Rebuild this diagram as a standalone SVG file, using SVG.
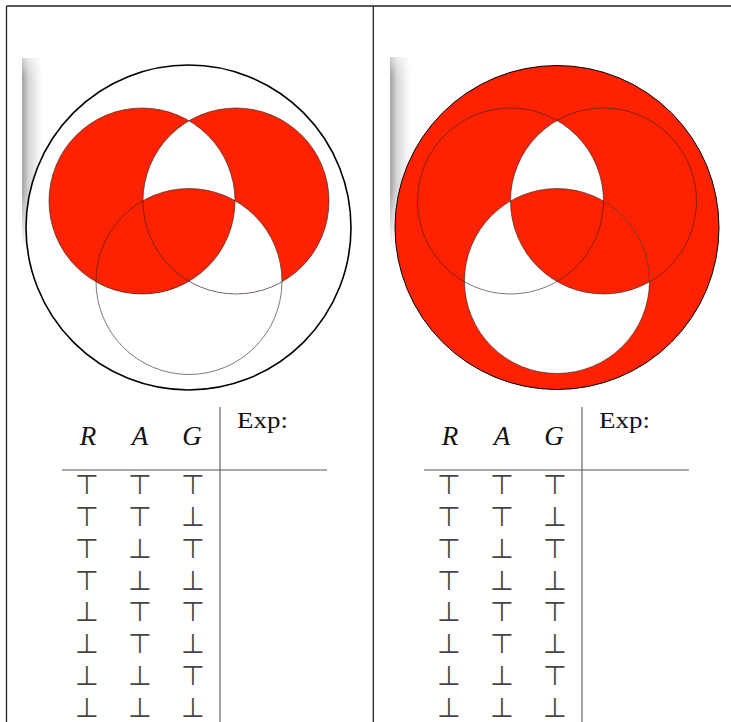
<svg xmlns="http://www.w3.org/2000/svg" width="731" height="722" viewBox="0 0 731 722">
<style>
.red{fill:#ff2200}
.wh{fill:#ffffff}
.thin{fill:none;stroke:#222;stroke-width:0.6}
.rule{stroke:#555;stroke-width:1.1;fill:none}
.border{stroke:#222;stroke-width:1.3;fill:none}
.hdr{font-family:"Liberation Serif",serif;font-style:italic;font-size:27px;fill:#111;text-anchor:middle}
.exp{font-family:"Liberation Serif",serif;font-size:24px;fill:#111}
.sym{font-family:"DejaVu Sans",sans-serif;font-size:27px;fill:#444;text-anchor:middle}
</style>
<defs>
<linearGradient id="shH" x1="0" y1="0" x2="1" y2="0">
<stop offset="0" stop-color="#a0a0a0"/>
<stop offset="0.35" stop-color="#d8d8d8"/>
<stop offset="1" stop-color="#ffffff"/>
</linearGradient>
<linearGradient id="shV" x1="0" y1="0" x2="0" y2="1">
<stop offset="0" stop-color="#fff" stop-opacity="0.5"/>
<stop offset="0.1" stop-color="#fff" stop-opacity="1"/>
<stop offset="0.7" stop-color="#fff" stop-opacity="1"/>
<stop offset="1" stop-color="#fff" stop-opacity="0"/>
</linearGradient>
<mask id="shMask" maskContentUnits="objectBoundingBox">
<rect x="0" y="0" width="1" height="1" fill="url(#shV)"/>
</mask>
<clipPath id="cL1"><circle cx="142" cy="201" r="93"/></clipPath>
<clipPath id="cR1"><circle cx="236" cy="201" r="93"/></clipPath>
<clipPath id="cL2"><circle cx="510.5" cy="201" r="93"/></clipPath>
<clipPath id="cR2"><circle cx="603.5" cy="201" r="93"/></clipPath>
</defs>

<g id="frame">
<line class="border" x1="6.5" y1="6" x2="731" y2="6"/>
<line class="border" x1="6.5" y1="6" x2="6.5" y2="722"/>
<line class="border" x1="373.3" y1="6" x2="373.3" y2="722"/>
</g>

<g id="venn-left">
<rect x="22" y="58" width="20" height="190" fill="url(#shH)" mask="url(#shMask)"/>
<circle cx="188.5" cy="227.5" r="162.5" fill="#fff" stroke="#000" stroke-width="1.6"/>
<circle class="red" cx="142" cy="201" r="93"/>
<circle class="red" cx="236" cy="201" r="93"/>
<g clip-path="url(#cL1)"><circle class="wh" cx="236" cy="201" r="93"/></g>
<g clip-path="url(#cR1)"><circle class="wh" cx="189" cy="281.5" r="93"/></g>
<g clip-path="url(#cL1)"><circle class="red" cx="189" cy="281.5" r="93"/></g>
<circle class="thin" cx="142" cy="201" r="93"/>
<circle class="thin" cx="236" cy="201" r="93"/>
<circle class="thin" cx="189" cy="281.5" r="93"/>
</g>

<g id="venn-right">
<rect x="390" y="57" width="20" height="190" fill="url(#shH)" mask="url(#shMask)"/>
<circle class="red" cx="557" cy="227.5" r="162" stroke="#000" stroke-width="1"/>
<circle class="wh" cx="557" cy="281" r="92.5"/>
<g clip-path="url(#cL2)"><circle class="wh" cx="603.5" cy="201" r="93"/></g>
<g clip-path="url(#cR2)"><circle class="red" cx="557" cy="281" r="92.5"/></g>
<circle class="thin" cx="510.5" cy="201" r="93"/>
<circle class="thin" cx="603.5" cy="201" r="93"/>
<circle class="thin" cx="557" cy="281" r="92.5"/>
</g>

<g id="table-left">
<line class="rule" x1="62" y1="470" x2="327" y2="470"/>
<line class="rule" x1="220" y1="407" x2="220" y2="722"/>
<text class="hdr" x="88" y="445">R</text>
<text class="hdr" x="140" y="445">A</text>
<text class="hdr" x="192" y="445">G</text>
<text class="exp" x="237" y="428" textLength="51" lengthAdjust="spacingAndGlyphs">Exp:</text>
<g class="sym">
<text x="87" y="494">⊤</text><text x="140" y="494">⊤</text><text x="193" y="494">⊤</text>
<text x="87" y="526">⊤</text><text x="140" y="526">⊤</text><text x="193" y="526">⊥</text>
<text x="87" y="558">⊤</text><text x="140" y="558">⊥</text><text x="193" y="558">⊤</text>
<text x="87" y="590">⊤</text><text x="140" y="590">⊥</text><text x="193" y="590">⊥</text>
<text x="87" y="621">⊥</text><text x="140" y="621">⊤</text><text x="193" y="621">⊤</text>
<text x="87" y="653">⊥</text><text x="140" y="653">⊤</text><text x="193" y="653">⊥</text>
<text x="87" y="685">⊥</text><text x="140" y="685">⊥</text><text x="193" y="685">⊤</text>
<text x="87" y="717">⊥</text><text x="140" y="717">⊥</text><text x="193" y="717">⊥</text>
</g>
</g>

<g id="table-right">
<line class="rule" x1="424" y1="470" x2="689" y2="470"/>
<line class="rule" x1="582" y1="407" x2="582" y2="722"/>
<text class="hdr" x="450" y="445">R</text>
<text class="hdr" x="502" y="445">A</text>
<text class="hdr" x="554" y="445">G</text>
<text class="exp" x="599" y="428" textLength="51" lengthAdjust="spacingAndGlyphs">Exp:</text>
<g class="sym">
<text x="449" y="494">⊤</text><text x="502" y="494">⊤</text><text x="555" y="494">⊤</text>
<text x="449" y="526">⊤</text><text x="502" y="526">⊤</text><text x="555" y="526">⊥</text>
<text x="449" y="558">⊤</text><text x="502" y="558">⊥</text><text x="555" y="558">⊤</text>
<text x="449" y="590">⊤</text><text x="502" y="590">⊥</text><text x="555" y="590">⊥</text>
<text x="449" y="621">⊥</text><text x="502" y="621">⊤</text><text x="555" y="621">⊤</text>
<text x="449" y="653">⊥</text><text x="502" y="653">⊤</text><text x="555" y="653">⊥</text>
<text x="449" y="685">⊥</text><text x="502" y="685">⊥</text><text x="555" y="685">⊤</text>
<text x="449" y="717">⊥</text><text x="502" y="717">⊥</text><text x="555" y="717">⊥</text>
</g>
</g>
</svg>
